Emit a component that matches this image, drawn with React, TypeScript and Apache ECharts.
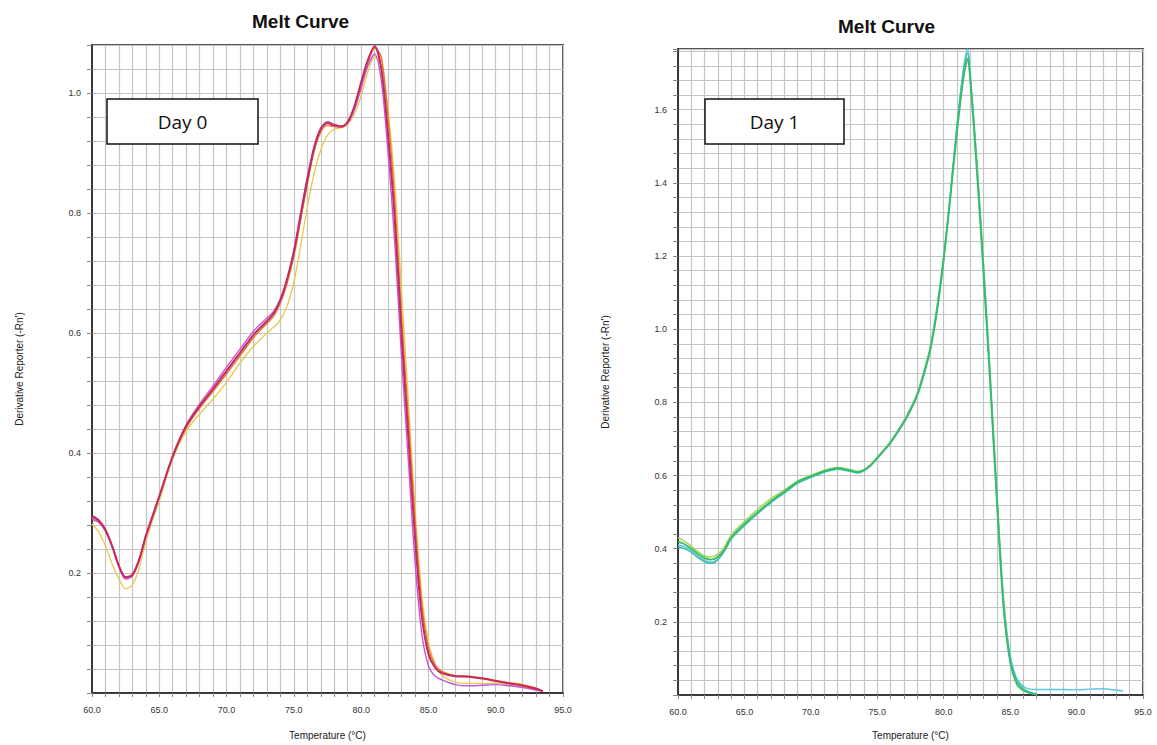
import React, { useEffect, useRef } from "react";
import * as echarts from "echarts";

// ---------- Day 0 ----------
const day0Temps = [60, 60.5, 61, 61.5, 62, 62.5, 63, 63.5, 64, 64.5, 65, 66, 67, 68, 69, 70, 71, 72, 73, 73.5, 74, 74.5, 75, 75.5, 76, 76.5, 77, 77.5, 78, 78.5, 79, 79.5, 80, 80.5, 81, 81.5, 82, 82.5, 83, 83.5, 84, 84.5, 85, 85.5, 86, 87, 88, 89, 90, 91, 92, 93, 93.5];
const day0Crimson = [0.295, 0.288, 0.272, 0.245, 0.212, 0.193, 0.197, 0.222, 0.262, 0.295, 0.328, 0.395, 0.445, 0.478, 0.507, 0.537, 0.567, 0.597, 0.62, 0.633, 0.655, 0.69, 0.735, 0.795, 0.855, 0.908, 0.94, 0.95, 0.946, 0.944, 0.952, 0.978, 1.018, 1.055, 1.078, 1.04, 0.93, 0.79, 0.6, 0.43, 0.26, 0.13, 0.065, 0.042, 0.033, 0.028, 0.027, 0.024, 0.02, 0.016, 0.012, 0.007, 0.003];
const day0Violet = [0.29, 0.284, 0.27, 0.243, 0.21, 0.19, 0.195, 0.22, 0.26, 0.293, 0.327, 0.395, 0.447, 0.482, 0.512, 0.543, 0.573, 0.603, 0.625, 0.636, 0.657, 0.69, 0.738, 0.8, 0.86, 0.91, 0.942, 0.952, 0.948, 0.945, 0.95, 0.972, 1.008, 1.045, 1.065, 1.02, 0.9, 0.75, 0.56, 0.39, 0.22, 0.1, 0.045, 0.028, 0.022, 0.014, 0.012, 0.013, 0.014, 0.012, 0.009, 0.005, 0.003];
const day0Orange = [0.293, 0.286, 0.27, 0.244, 0.212, 0.194, 0.198, 0.222, 0.262, 0.295, 0.328, 0.393, 0.442, 0.475, 0.503, 0.532, 0.562, 0.592, 0.616, 0.628, 0.65, 0.683, 0.728, 0.788, 0.848, 0.902, 0.935, 0.946, 0.944, 0.943, 0.95, 0.975, 1.012, 1.05, 1.075, 1.06, 0.96, 0.82, 0.63, 0.46, 0.29, 0.15, 0.075, 0.047, 0.036, 0.029, 0.028, 0.025, 0.021, 0.017, 0.014, 0.008, 0.003];
const day0Yellow = [0.282, 0.268, 0.245, 0.215, 0.19, 0.174, 0.18, 0.208, 0.252, 0.288, 0.32, 0.39, 0.437, 0.465, 0.49, 0.518, 0.55, 0.578, 0.6, 0.61, 0.622, 0.645, 0.685, 0.745, 0.81, 0.865, 0.905, 0.93, 0.94, 0.942, 0.948, 0.965, 0.995, 1.035, 1.06, 1.045, 0.97, 0.85, 0.67, 0.49, 0.31, 0.165, 0.085, 0.048, 0.03, 0.018, 0.016, 0.016, 0.016, 0.013, 0.01, 0.006, 0.003];

// ---------- Day 1 ----------
const day1Temps = [60, 60.5, 61, 61.5, 62, 62.5, 63, 63.5, 64, 65, 66, 67, 68, 69, 70, 71, 72, 73, 73.5, 74, 74.5, 75, 76, 77, 77.5, 78, 78.5, 79, 79.5, 80, 80.5, 81, 81.5, 81.8, 82, 82.5, 83, 83.5, 84, 84.5, 85, 85.5, 86, 86.5, 87, 88, 89, 90, 91, 92, 93, 93.5];
const day1Cyan = [0.41, 0.405, 0.395, 0.38, 0.368, 0.363, 0.372, 0.395, 0.428, 0.465, 0.498, 0.528, 0.553, 0.58, 0.596, 0.61, 0.618, 0.612, 0.608, 0.614, 0.628, 0.648, 0.692, 0.748, 0.782, 0.822, 0.88, 0.95, 1.06, 1.2, 1.37, 1.56, 1.715, 1.766, 1.7, 1.45, 1.17, 0.87, 0.55, 0.26, 0.11, 0.045, 0.024, 0.016, 0.015, 0.015, 0.015, 0.014, 0.016, 0.017, 0.013, 0.011];
const day1Green = [0.42, 0.412, 0.4, 0.386, 0.374, 0.37, 0.378, 0.398, 0.43, 0.468, 0.5, 0.53, 0.556, 0.583, 0.598, 0.612, 0.62, 0.614, 0.61, 0.615, 0.628, 0.648, 0.69, 0.745, 0.778, 0.818, 0.875, 0.945, 1.05, 1.19, 1.36, 1.54, 1.69, 1.74, 1.68, 1.43, 1.15, 0.85, 0.53, 0.24, 0.09, 0.03, 0.012, 0.005, 0.001];
const day1YellowGreen = [0.43, 0.42, 0.407, 0.392, 0.38, 0.377, 0.385, 0.405, 0.437, 0.475, 0.508, 0.537, 0.56, 0.585, 0.6, 0.614, 0.622, 0.616, 0.611, 0.616, 0.63, 0.65, 0.694, 0.75, 0.785, 0.825, 0.885, 0.955, 1.065, 1.2, 1.37, 1.55, 1.7, 1.73, 1.69, 1.46, 1.18, 0.88, 0.56, 0.27, 0.1, 0.035, 0.014, 0.006, 0.002];
const day1Teal = [0.405, 0.4, 0.39, 0.376, 0.364, 0.36, 0.37, 0.393, 0.426, 0.463, 0.496, 0.526, 0.552, 0.579, 0.595, 0.609, 0.617, 0.611, 0.607, 0.613, 0.627, 0.647, 0.69, 0.746, 0.78, 0.82, 0.878, 0.948, 1.055, 1.195, 1.365, 1.555, 1.71, 1.755, 1.69, 1.44, 1.16, 0.86, 0.54, 0.25, 0.1, 0.04, 0.018, 0.008, 0.003];

const TITLE = "Melt Curve";
const X_NAME = "Temperature (°C)";
const Y_NAME = "Derivative Reporter (-Rn')";
const BOX_LABELS = ["Day 0", "Day 1"];

const FONT = "'Liberation Sans', Arial, sans-serif";

export default function App() {
  const ref = useRef<HTMLDivElement>(null);

  useEffect(() => {
    if (!ref.current) return;
    const chart = echarts.init(ref.current, null, { renderer: "svg" });
    const pair = (t: number[], v: number[]) => v.map((y, i) => [t[i], y]);
    const isMajor = (v: number) =>
      v > 0.001 && Math.abs(v / 0.2 - Math.round(v / 0.2)) < 1e-6;

    const xAxis = (gridIndex: number, gap: number) => ({
      type: "value",
      gridIndex,
      min: 60,
      max: 95,
      interval: 1,
      name: X_NAME,
      nameLocation: "middle",
      nameGap: gap,
      nameTextStyle: { fontSize: 10, color: "#222", fontFamily: FONT },
      axisLine: { show: true, onZero: false, lineStyle: { color: "#3a3a3a", width: 2 } },
      axisTick: { show: true, length: 4, lineStyle: { color: "#888" } },
      axisLabel: {
        fontSize: 9,
        color: "#333",
        fontFamily: FONT,
        margin: 12,
        formatter: (v: number) => (Math.round(v) % 5 === 0 ? v.toFixed(1) : ""),
      },
      splitLine: { show: true, lineStyle: { color: "#c4c4c4", width: 1.2 } },
    });

    const yAxis = (gridIndex: number, max: number) => ({
      type: "value",
      gridIndex,
      min: 0,
      max,
      interval: 0.04,
      name: Y_NAME,
      nameLocation: "middle",
      nameGap: 68,
      nameTextStyle: { fontSize: 10, color: "#222", fontFamily: FONT },
      axisLine: { show: true, onZero: false, lineStyle: { color: "#3a3a3a", width: 2 } },
      axisTick: { show: true, length: 5, lineStyle: { color: "#888" } },
      axisLabel: {
        fontSize: 9,
        color: "#333",
        fontFamily: FONT,
        margin: 11,
        formatter: (v: number) => (isMajor(v) ? v.toFixed(1) : ""),
      },
      splitLine: { show: true, lineStyle: { color: "#c4c4c4", width: 1.2 } },
    });

    const line = (
      name: string,
      xi: number,
      t: number[],
      v: number[],
      color: string,
      width: number
    ) => ({
      name,
      type: "line",
      xAxisIndex: xi,
      yAxisIndex: xi,
      data: pair(t, v),
      symbol: "none",
      smooth: 0.3,
      lineStyle: { color, width },
      itemStyle: { color },
      z: 3,
    });

    const box = (x: number, y: number, w: number, h: number, label: string) => ({
      type: "group",
      children: [
        {
          type: "rect",
          shape: { x, y, width: w, height: h },
          style: { fill: "#fff", stroke: "#111", lineWidth: 1.5 },
          z: 10,
        },
        {
          type: "text",
          x: x + w / 2,
          y: y + h / 2,
          style: {
            text: label,
            fontSize: 19,
            fontFamily: "'Open Sans', 'Noto Sans', sans-serif",
            fill: "#111",
            align: "center",
            verticalAlign: "middle",
          },
          z: 11,
        },
      ],
    });

    chart.setOption({
      animation: false,
      backgroundColor: "#fff",
      title: [
        {
          text: TITLE,
          left: 252,
          top: 12,
          padding: 0,
          textStyle: { fontSize: 19, fontWeight: "bold", color: "#111", fontFamily: FONT },
        },
        {
          text: TITLE,
          left: 838,
          top: 17,
          padding: 0,
          textStyle: { fontSize: 19, fontWeight: "bold", color: "#111", fontFamily: FONT },
        },
      ],
      grid: [
        { left: 92, top: 45, width: 471, height: 649, show: true, borderColor: "#555", borderWidth: 2, backgroundColor: "#fff" },
        { left: 678, top: 49, width: 465, height: 647, show: true, borderColor: "#555", borderWidth: 2, backgroundColor: "#fff" },
      ],
      xAxis: [xAxis(0, 37), xAxis(1, 35)],
      yAxis: [yAxis(0, 1.08), yAxis(1, 1.766)],
      series: [
        line("Day 0 - A", 0, day0Temps, day0Yellow, "#e8c94c", 1.3),
        line("Day 0 - B", 0, day0Temps, day0Orange, "#e27a2a", 1.4),
        line("Day 0 - C", 0, day0Temps, day0Violet, "#c455dc", 1.4),
        line("Day 0 - D", 0, day0Temps, day0Crimson, "#c62a5c", 2),
        line("Day 1 - A", 1, day1Temps, day1YellowGreen, "#a4d24a", 1.4),
        line("Day 1 - B", 1, day1Temps, day1Cyan, "#5ec6e4", 1.4),
        line("Day 1 - C", 1, day1Temps, day1Teal, "#34c2a4", 1.4),
        line("Day 1 - D", 1, day1Temps, day1Green, "#3cba6c", 1.8),
      ],
      graphic: [box(107, 99, 151, 45, BOX_LABELS[0]), box(705, 99, 139, 45, BOX_LABELS[1])],
    });

    return () => chart.dispose();
  }, []);

  return (
    <div
      ref={ref}
      style={{ position: "fixed", left: 0, top: 0, width: 1157, height: 745, background: "#fff" }}
    />
  );
}
